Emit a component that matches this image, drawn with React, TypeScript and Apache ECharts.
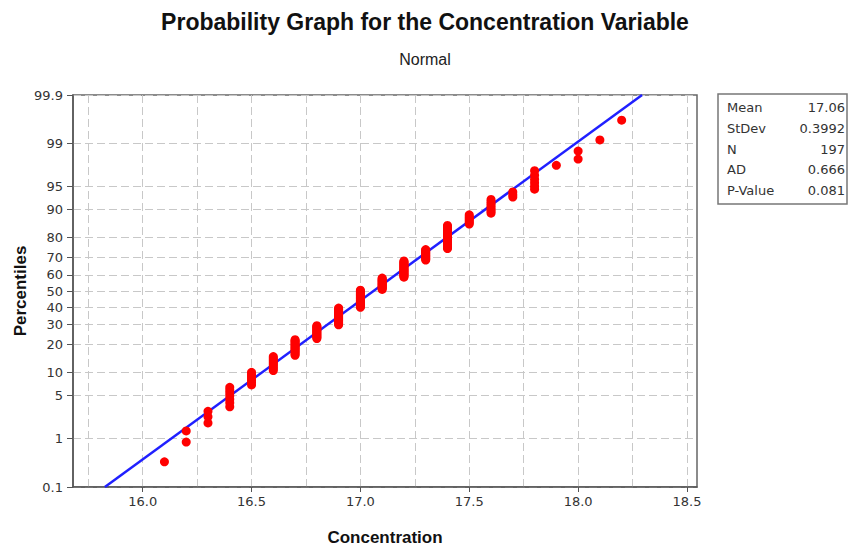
import React, { useEffect, useRef } from "react";
import * as echarts from "echarts";

// ---- data ----
const concentrationValues = [16.1, 16.2, 16.3, 16.4, 16.5, 16.6, 16.7, 16.8, 16.9, 17.0, 17.1, 17.2, 17.3, 17.4, 17.5, 17.6, 17.7, 17.8, 17.9, 18.0, 18.1, 18.2];
const counts = [1, 2, 3, 7, 7, 10, 14, 14, 20, 22, 15, 20, 12, 21, 7, 8, 3, 6, 1, 2, 1, 1];
const fitMean = 17.06;
const fitStDev = 0.3992;
const statLabels = ["Mean", "StDev", "N", "AD", "P-Value"];
const statValues = ["17.06", "0.3992", "197", "0.666", "0.081"];
const percentileTicks = [0.1, 1, 5, 10, 20, 30, 40, 50, 60, 70, 80, 90, 95, 99, 99.9];
const xTickValues = [16.0, 16.5, 17.0, 17.5, 18.0, 18.5];
const xGridValues = [15.75, 16.0, 16.25, 16.5, 16.75, 17.0, 17.25, 17.5, 17.75, 18.0, 18.25, 18.5];
const xMin = 15.68;
const xMax = 18.546;

// inverse standard normal CDF (probability-scale transform)
function probit(p: number): number {
  const a = [-3.969683028665376e1, 2.209460984245205e2, -2.759285104469687e2, 1.38357751867269e2, -3.066479806614716e1, 2.506628277459239];
  const b = [-5.447609879822406e1, 1.615858368580409e2, -1.556989798598866e2, 6.680131188771972e1, -1.328068155288572e1];
  const c = [-7.784894002430293e-3, -3.223964580411365e-1, -2.400758277161838, -2.549732539343734, 4.374664141464968, 2.938163982698783];
  const d = [7.784695709041462e-3, 3.224671290700398e-1, 2.445134137142996, 3.754408661907416];
  const pl = 0.02425;
  if (p < pl) {
    const q = Math.sqrt(-2 * Math.log(p));
    return (((((c[0] * q + c[1]) * q + c[2]) * q + c[3]) * q + c[4]) * q + c[5]) / ((((d[0] * q + d[1]) * q + d[2]) * q + d[3]) * q + 1);
  }
  if (p <= 1 - pl) {
    const q = p - 0.5;
    const r = q * q;
    return ((((((a[0] * r + a[1]) * r + a[2]) * r + a[3]) * r + a[4]) * r + a[5]) * q) / (((((b[0] * r + b[1]) * r + b[2]) * r + b[3]) * r + b[4]) * r + 1);
  }
  const q = Math.sqrt(-2 * Math.log(1 - p));
  return -(((((c[0] * q + c[1]) * q + c[2]) * q + c[3]) * q + c[4]) * q + c[5]) / ((((d[0] * q + d[1]) * q + d[2]) * q + d[3]) * q + 1);
}

export default function App() {
  const ref = useRef<HTMLDivElement>(null);

  useEffect(() => {
    if (!ref.current) return;
    const chart = echarts.init(ref.current, undefined, { renderer: "svg" });

    const n = counts.reduce((s, v) => s + v, 0);
    const points: number[][] = [];
    let rank = 0;
    concentrationValues.forEach((v, k) => {
      for (let j = 0; j < counts[k]; j++) {
        rank += 1;
        const p = (rank - 0.3) / (n + 0.4);
        points.push([v, probit(p)]);
      }
    });

    const yTickZ = percentileTicks.map((p) => probit(p / 100));
    const zMin = yTickZ[0];
    const zMax = yTickZ[yTickZ.length - 1];
    const fitLine = [
      [fitMean + fitStDev * zMin, zMin],
      [fitMean + fitStDev * zMax, zMax],
    ];

    const labelFont = "DejaVu Sans";
    const headFont = "Liberation Sans";
    const dashed = { color: "#c8c8c8", width: 1, type: [8, 4] as any };

    const rowY = [107.7, 128.3, 149, 169.7, 190.3];
    const statTexts: any[] = [];
    statLabels.forEach((lab, i) => {
      statTexts.push({
        type: "text",
        x: 727,
        y: rowY[i],
        style: { text: lab, fill: "#333", font: `13px '${labelFont}'`, textAlign: "left", textVerticalAlign: "middle" },
      });
      statTexts.push({
        type: "text",
        x: 845,
        y: rowY[i],
        style: { text: statValues[i], fill: "#333", font: `13px '${labelFont}'`, textAlign: "right", textVerticalAlign: "middle" },
      });
    });

    chart.setOption({
      animation: false,
      backgroundColor: "#ffffff",
      title: [
        {
          text: "Probability Graph for the Concentration Variable",
          left: "center",
          top: 5,
          textStyle: { fontFamily: headFont, fontSize: 23, fontWeight: "bold", color: "#111" },
        },
        {
          text: "Normal",
          left: "center",
          top: 46,
          textStyle: { fontFamily: headFont, fontSize: 16, fontWeight: "normal", color: "#222" },
        },
      ],
      grid: {
        left: 73,
        top: 95,
        right: 153,
        bottom: 61,
        containLabel: false,
        outerBoundsMode: "none",
        show: true,
        borderColor: "#666",
        borderWidth: 1.5,
        backgroundColor: "#fff",
      },
      xAxis: [
        {
          type: "value",
          min: xMin,
          max: xMax,
          position: "bottom",
          name: "Concentration",
          nameLocation: "middle",
          nameGap: 42,
          nameMoveOverlap: false,
          nameTextStyle: { fontFamily: headFont, fontSize: 17, fontWeight: "bold", color: "#111" },
          axisLine: { show: true, onZero: false, lineStyle: { color: "#555", width: 1.5 } },
          axisTick: { show: true, length: 5, inside: false, customValues: xTickValues, lineStyle: { color: "#555" } },
          axisLabel: {
            customValues: xTickValues,
            formatter: (v: number) => v.toFixed(1),
            fontFamily: labelFont,
            fontSize: 13,
            color: "#333",
            margin: 8,
          },
          splitLine: { show: false },
        },
        {
          type: "value",
          min: xMin,
          max: xMax,
          position: "top",
          axisLine: { show: false, onZero: false },
          axisTick: { show: false, customValues: xGridValues },
          axisLabel: { show: false },
          splitLine: { show: true, lineStyle: dashed },
        },
      ],
      yAxis: [
        {
          type: "value",
          min: zMin,
          max: zMax,
          position: "left",
          name: "Percentiles",
          nameLocation: "middle",
          nameGap: 44,
          nameMoveOverlap: false,
          nameRotate: 90,
          nameTextStyle: { fontFamily: headFont, fontSize: 17, fontWeight: "bold", color: "#111" },
          axisLine: { show: true, onZero: false, lineStyle: { color: "#555", width: 1.5 } },
          axisTick: { show: true, length: 6, inside: false, customValues: yTickZ, lineStyle: { color: "#555" } },
          axisLabel: {
            customValues: yTickZ,
            formatter: (v: number) => {
              let best = 0;
              let bd = Infinity;
              yTickZ.forEach((z, i) => {
                const dd = Math.abs(z - v);
                if (dd < bd) {
                  bd = dd;
                  best = i;
                }
              });
              return String(percentileTicks[best]);
            },
            fontFamily: labelFont,
            fontSize: 13,
            color: "#333",
            margin: 10,
          },
          splitLine: { show: true, lineStyle: dashed },
        },
      ],
      series: [
        {
          type: "line",
          xAxisIndex: 0,
          yAxisIndex: 0,
          data: fitLine,
          symbol: "none",
          lineStyle: { color: "#2020ff", width: 2.5 },
          z: 2,
        },
        {
          type: "scatter",
          xAxisIndex: 0,
          yAxisIndex: 0,
          data: points,
          symbol: "circle",
          symbolSize: 9,
          itemStyle: { color: "#ff0000", opacity: 1 },
          z: 3,
        },
      ],
      graphic: [
        {
          type: "rect",
          shape: { x: 718, y: 94, width: 129, height: 110 },
          style: { fill: "#fff", stroke: "#777", lineWidth: 1.5 },
        },
        ...statTexts,
      ],
    });

    return () => chart.dispose();
  }, []);

  return (
    <div
      ref={ref}
      style={{ position: "fixed", left: 0, top: 0, width: 850, height: 548, background: "#fff" }}
    />
  );
}
